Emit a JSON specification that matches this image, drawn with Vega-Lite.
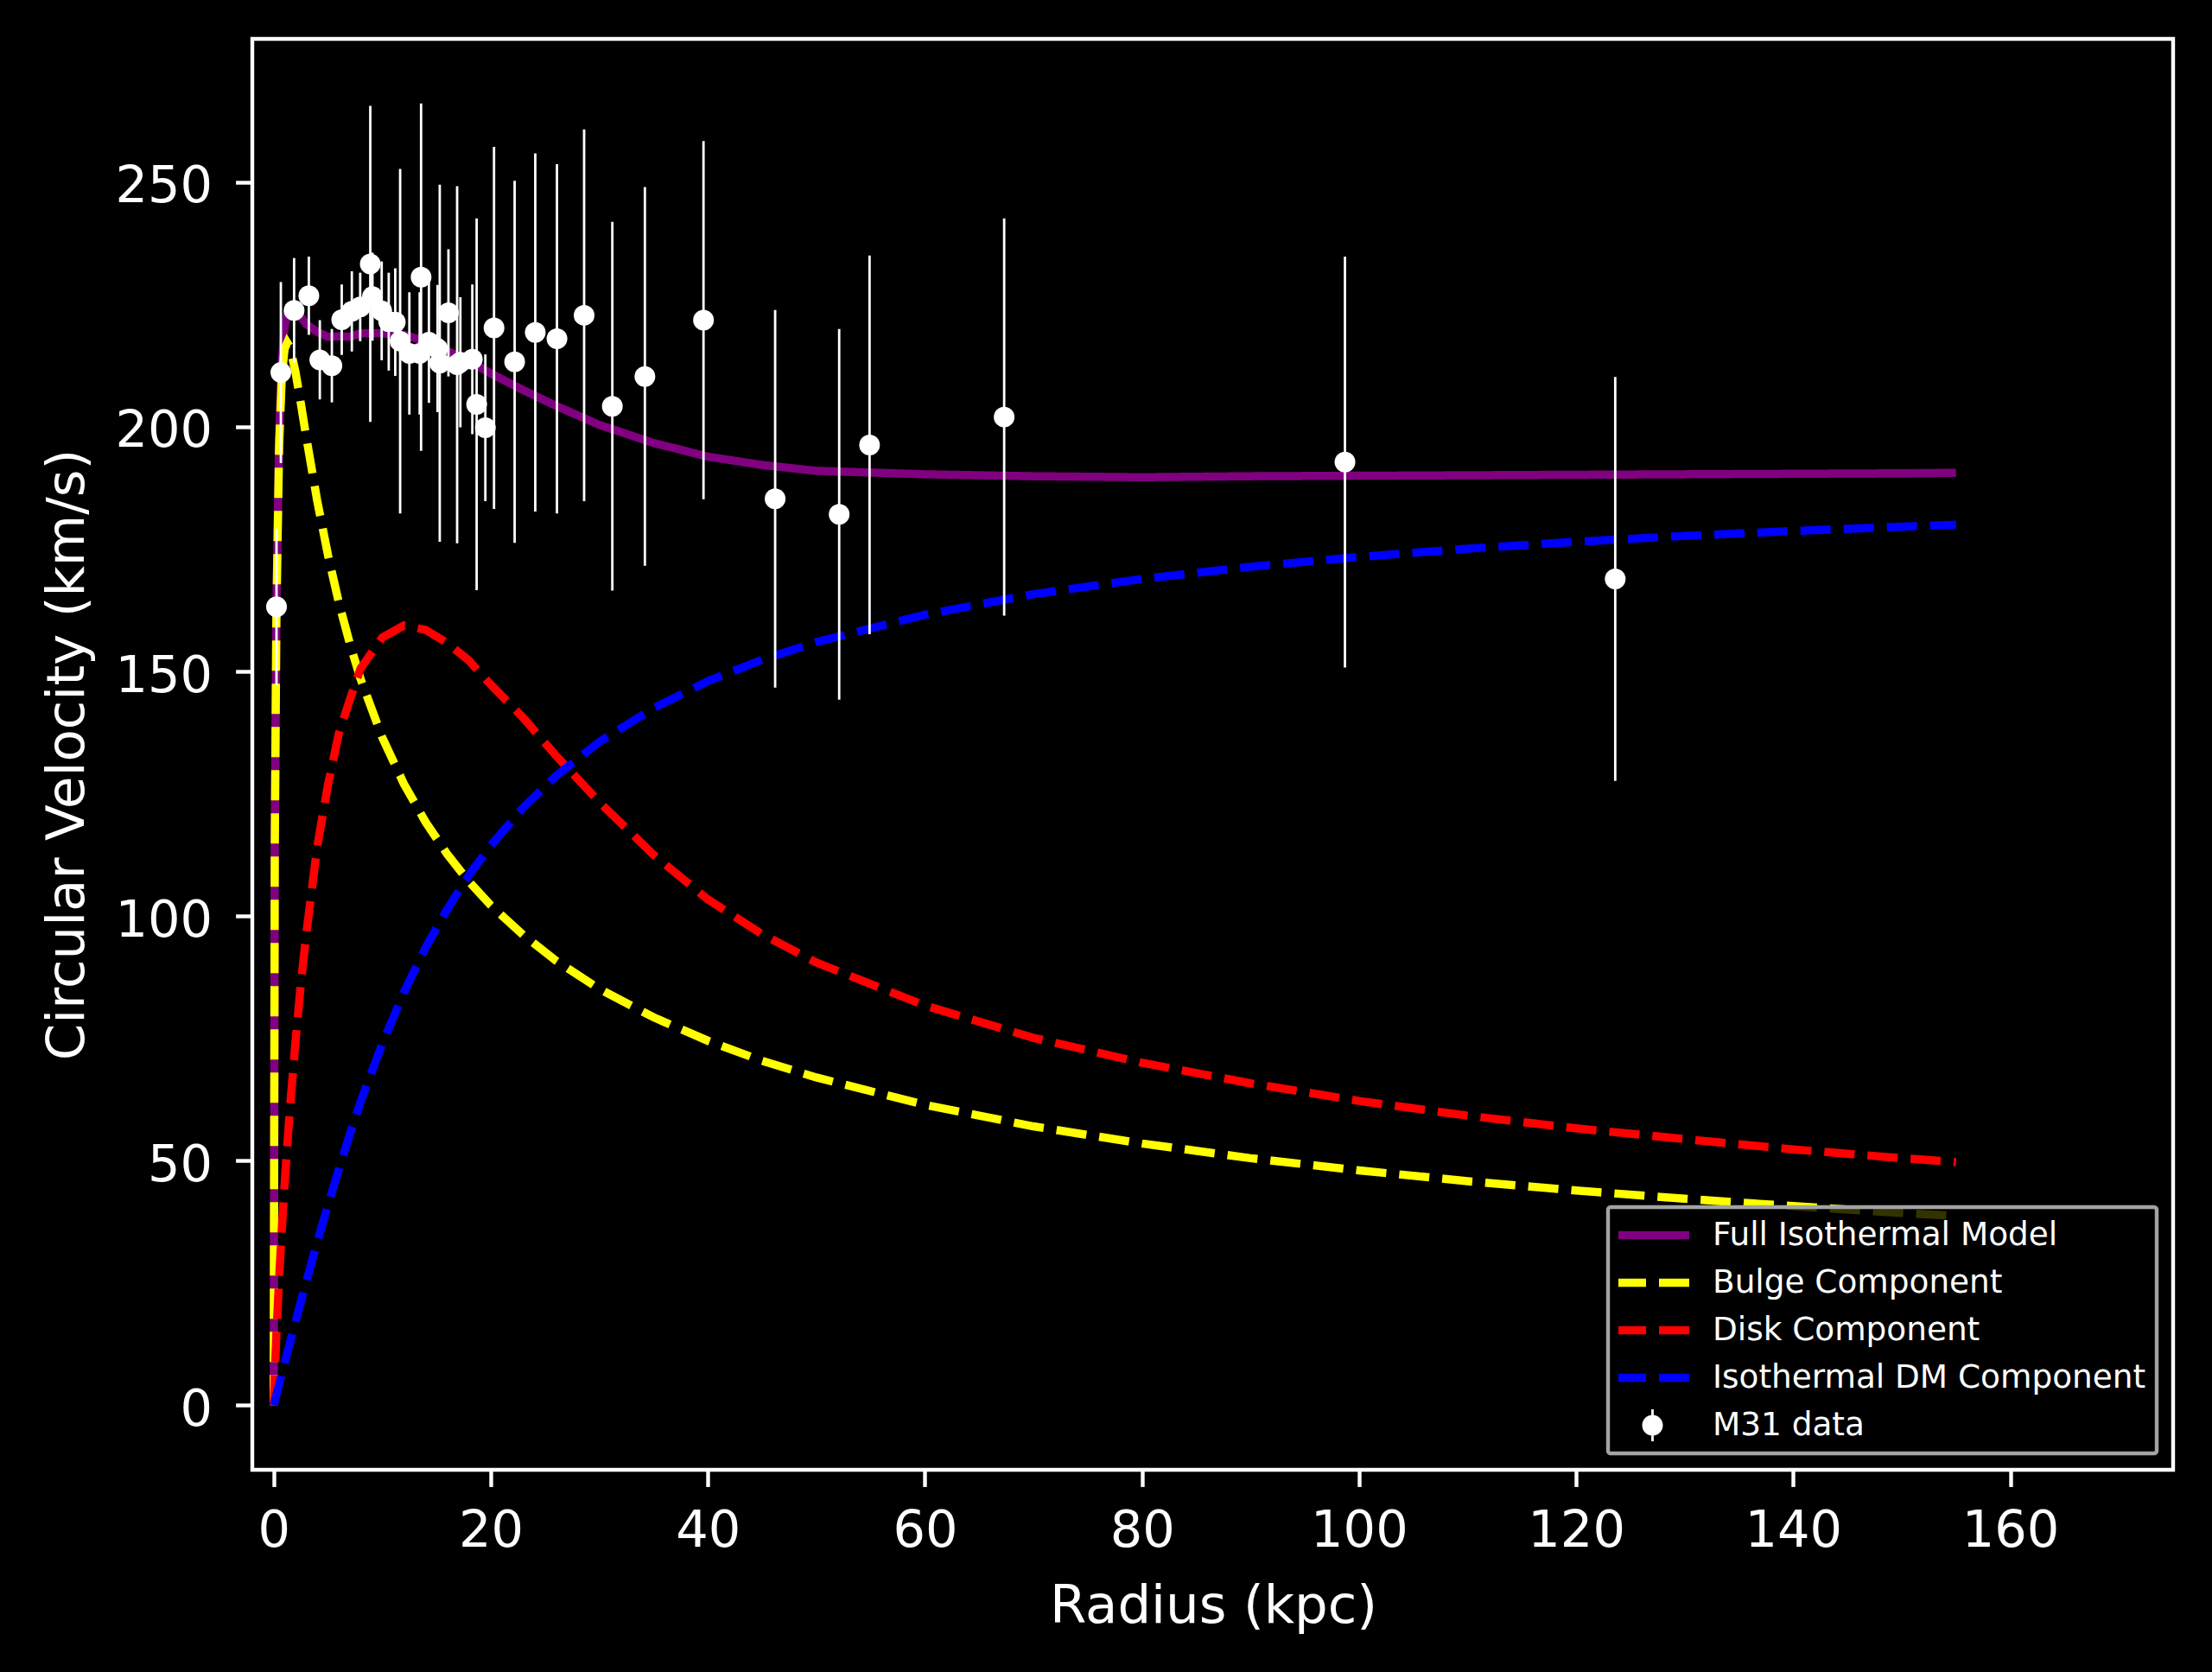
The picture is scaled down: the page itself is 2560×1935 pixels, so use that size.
{
  "$schema": "https://vega.github.io/schema/vega-lite/v6.json",
  "width": 2223,
  "height": 1656,
  "autosize": {"type": "none"},
  "padding": {"left": 292, "top": 45, "right": 45, "bottom": 234},
  "background": "black",
  "config": {
    "view": {"stroke": "white", "strokeWidth": 4.4},
    "font": "DejaVu Sans",
    "axis": {
      "domain": false, "grid": false,
      "tickColor": "white", "tickWidth": 4.4, "tickSize": 19.4,
      "labelColor": "white", "labelFont": "DejaVu Sans", "labelFontSize": 59, "labelFlush": false,
      "titleColor": "white", "titleFont": "DejaVu Sans", "titleFontSize": 61, "titleFontWeight": "normal"
    }
  },
  "datasets": {
    "curves": [
      {"r":0,"v":0,"series":"Full Isothermal Model"},{"r":0.1,"v":114.0,"series":"Full Isothermal Model"},{"r":0.25,"v":162.6,"series":"Full Isothermal Model"},{"r":0.5,"v":198.0,"series":"Full Isothermal Model"},{"r":0.75,"v":213.5,"series":"Full Isothermal Model"},{"r":1,"v":220.5,"series":"Full Isothermal Model"},{"r":1.25,"v":223.3,"series":"Full Isothermal Model"},{"r":1.5,"v":224.2,"series":"Full Isothermal Model"},{"r":2,"v":223.8,"series":"Full Isothermal Model"},{"r":2.5,"v":222.5,"series":"Full Isothermal Model"},{"r":3,"v":221.0,"series":"Full Isothermal Model"},{"r":4,"v":219.4,"series":"Full Isothermal Model"},{"r":5,"v":218.4,"series":"Full Isothermal Model"},{"r":6,"v":218.5,"series":"Full Isothermal Model"},{"r":7,"v":218.4,"series":"Full Isothermal Model"},{"r":8,"v":219.1,"series":"Full Isothermal Model"},{"r":10,"v":219.1,"series":"Full Isothermal Model"},{"r":12,"v":218.8,"series":"Full Isothermal Model"},{"r":14,"v":217.5,"series":"Full Isothermal Model"},{"r":16,"v":215.5,"series":"Full Isothermal Model"},{"r":18,"v":213.5,"series":"Full Isothermal Model"},{"r":20,"v":210.9,"series":"Full Isothermal Model"},{"r":23,"v":207.5,"series":"Full Isothermal Model"},{"r":26,"v":204.3,"series":"Full Isothermal Model"},{"r":30,"v":200.4,"series":"Full Isothermal Model"},{"r":35,"v":196.7,"series":"Full Isothermal Model"},{"r":40,"v":193.9,"series":"Full Isothermal Model"},{"r":45,"v":192.2,"series":"Full Isothermal Model"},{"r":50,"v":191.0,"series":"Full Isothermal Model"},{"r":60,"v":190.3,"series":"Full Isothermal Model"},{"r":70,"v":189.9,"series":"Full Isothermal Model"},{"r":80,"v":189.7,"series":"Full Isothermal Model"},{"r":90,"v":189.9,"series":"Full Isothermal Model"},{"r":100,"v":190.0,"series":"Full Isothermal Model"},{"r":110,"v":190.1,"series":"Full Isothermal Model"},{"r":120,"v":190.2,"series":"Full Isothermal Model"},{"r":130,"v":190.3,"series":"Full Isothermal Model"},{"r":140,"v":190.4,"series":"Full Isothermal Model"},{"r":150,"v":190.5,"series":"Full Isothermal Model"},{"r":155,"v":190.6,"series":"Full Isothermal Model"},
      {"r":0,"v":0,"series":"Bulge Component"},{"r":0.1,"v":113.8,"series":"Bulge Component"},{"r":0.25,"v":161.9,"series":"Bulge Component"},{"r":0.5,"v":196.2,"series":"Bulge Component"},{"r":0.75,"v":210.3,"series":"Bulge Component"},{"r":1,"v":215.9,"series":"Bulge Component"},{"r":1.25,"v":217.2,"series":"Bulge Component"},{"r":1.5,"v":216.3,"series":"Bulge Component"},{"r":2,"v":211.3,"series":"Bulge Component"},{"r":2.5,"v":204.8,"series":"Bulge Component"},{"r":3,"v":197.9,"series":"Bulge Component"},{"r":4,"v":185.0,"series":"Bulge Component"},{"r":5,"v":173.8,"series":"Bulge Component"},{"r":6,"v":164.1,"series":"Bulge Component"},{"r":7,"v":155.8,"series":"Bulge Component"},{"r":8,"v":148.5,"series":"Bulge Component"},{"r":10,"v":136.5,"series":"Bulge Component"},{"r":12,"v":127.0,"series":"Bulge Component"},{"r":14,"v":119.2,"series":"Bulge Component"},{"r":16,"v":112.6,"series":"Bulge Component"},{"r":18,"v":107.0,"series":"Bulge Component"},{"r":20,"v":102.2,"series":"Bulge Component"},{"r":23,"v":96.1,"series":"Bulge Component"},{"r":26,"v":90.9,"series":"Bulge Component"},{"r":30,"v":85.1,"series":"Bulge Component"},{"r":35,"v":79.3,"series":"Bulge Component"},{"r":40,"v":74.5,"series":"Bulge Component"},{"r":45,"v":70.4,"series":"Bulge Component"},{"r":50,"v":67.0,"series":"Bulge Component"},{"r":60,"v":61.4,"series":"Bulge Component"},{"r":70,"v":57.0,"series":"Bulge Component"},{"r":80,"v":53.5,"series":"Bulge Component"},{"r":90,"v":50.5,"series":"Bulge Component"},{"r":100,"v":48.0,"series":"Bulge Component"},{"r":110,"v":45.8,"series":"Bulge Component"},{"r":120,"v":43.9,"series":"Bulge Component"},{"r":130,"v":42.2,"series":"Bulge Component"},{"r":140,"v":40.7,"series":"Bulge Component"},{"r":150,"v":39.3,"series":"Bulge Component"},{"r":155,"v":38.7,"series":"Bulge Component"},
      {"r":0,"v":0,"series":"Disk Component"},{"r":0.1,"v":6.5,"series":"Disk Component"},{"r":0.25,"v":14.5,"series":"Disk Component"},{"r":0.5,"v":26.0,"series":"Disk Component"},{"r":0.75,"v":36.0,"series":"Disk Component"},{"r":1,"v":45.0,"series":"Disk Component"},{"r":1.25,"v":53.1,"series":"Disk Component"},{"r":1.5,"v":60.7,"series":"Disk Component"},{"r":2,"v":74.1,"series":"Disk Component"},{"r":2.5,"v":86.1,"series":"Disk Component"},{"r":3,"v":96.3,"series":"Disk Component"},{"r":4,"v":114.0,"series":"Disk Component"},{"r":5,"v":126.8,"series":"Disk Component"},{"r":6,"v":137.3,"series":"Disk Component"},{"r":7,"v":144.1,"series":"Disk Component"},{"r":8,"v":150.6,"series":"Disk Component"},{"r":10,"v":156.9,"series":"Disk Component"},{"r":12,"v":159.4,"series":"Disk Component"},{"r":14,"v":158.5,"series":"Disk Component"},{"r":16,"v":155.8,"series":"Disk Component"},{"r":18,"v":152.2,"series":"Disk Component"},{"r":20,"v":147.3,"series":"Disk Component"},{"r":23,"v":140.5,"series":"Disk Component"},{"r":26,"v":132.8,"series":"Disk Component"},{"r":30,"v":123.3,"series":"Disk Component"},{"r":35,"v":112.5,"series":"Disk Component"},{"r":40,"v":103.4,"series":"Disk Component"},{"r":45,"v":96.3,"series":"Disk Component"},{"r":50,"v":90.5,"series":"Disk Component"},{"r":60,"v":81.7,"series":"Disk Component"},{"r":70,"v":75.1,"series":"Disk Component"},{"r":80,"v":70.0,"series":"Disk Component"},{"r":90,"v":65.8,"series":"Disk Component"},{"r":100,"v":62.2,"series":"Disk Component"},{"r":110,"v":59.2,"series":"Disk Component"},{"r":120,"v":56.6,"series":"Disk Component"},{"r":130,"v":54.4,"series":"Disk Component"},{"r":140,"v":52.3,"series":"Disk Component"},{"r":150,"v":50.5,"series":"Disk Component"},{"r":155,"v":49.7,"series":"Disk Component"},
      {"r":0,"v":0,"series":"Isothermal DM Component"},{"r":0.1,"v":0.85,"series":"Isothermal DM Component"},{"r":0.25,"v":2.1,"series":"Isothermal DM Component"},{"r":0.5,"v":4.3,"series":"Isothermal DM Component"},{"r":0.75,"v":6.4,"series":"Isothermal DM Component"},{"r":1,"v":8.5,"series":"Isothermal DM Component"},{"r":1.25,"v":10.7,"series":"Isothermal DM Component"},{"r":1.5,"v":12.8,"series":"Isothermal DM Component"},{"r":2,"v":17.0,"series":"Isothermal DM Component"},{"r":2.5,"v":21.1,"series":"Isothermal DM Component"},{"r":3,"v":25.2,"series":"Isothermal DM Component"},{"r":4,"v":33.3,"series":"Isothermal DM Component"},{"r":5,"v":40.9,"series":"Isothermal DM Component"},{"r":6,"v":48.2,"series":"Isothermal DM Component"},{"r":7,"v":55.3,"series":"Isothermal DM Component"},{"r":8,"v":62.0,"series":"Isothermal DM Component"},{"r":10,"v":73.9,"series":"Isothermal DM Component"},{"r":12,"v":84.4,"series":"Isothermal DM Component"},{"r":14,"v":93.6,"series":"Isothermal DM Component"},{"r":16,"v":101.4,"series":"Isothermal DM Component"},{"r":18,"v":108.4,"series":"Isothermal DM Component"},{"r":20,"v":114.4,"series":"Isothermal DM Component"},{"r":23,"v":122.2,"series":"Isothermal DM Component"},{"r":26,"v":128.6,"series":"Isothermal DM Component"},{"r":30,"v":135.6,"series":"Isothermal DM Component"},{"r":35,"v":142.5,"series":"Isothermal DM Component"},{"r":40,"v":148.0,"series":"Isothermal DM Component"},{"r":45,"v":152.4,"series":"Isothermal DM Component"},{"r":50,"v":156.0,"series":"Isothermal DM Component"},{"r":60,"v":161.6,"series":"Isothermal DM Component"},{"r":70,"v":165.8,"series":"Isothermal DM Component"},{"r":80,"v":168.9,"series":"Isothermal DM Component"},{"r":90,"v":171.4,"series":"Isothermal DM Component"},{"r":100,"v":173.4,"series":"Isothermal DM Component"},{"r":110,"v":175.1,"series":"Isothermal DM Component"},{"r":120,"v":176.5,"series":"Isothermal DM Component"},{"r":130,"v":177.7,"series":"Isothermal DM Component"},{"r":140,"v":178.7,"series":"Isothermal DM Component"},{"r":150,"v":179.6,"series":"Isothermal DM Component"},{"r":155,"v":180.0,"series":"Isothermal DM Component"}
    ],
    "m31": [
      {"r":0.26,"v":163.2,"lo":147.2,"hi":179.2,"series":"M31 data"},
      {"r":0.66,"v":211.1,"lo":192.6,"hi":229.6,"series":"M31 data"},
      {"r":1.88,"v":223.8,"lo":213.1,"hi":234.5,"series":"M31 data"},
      {"r":3.24,"v":226.8,"lo":218.8,"hi":234.8,"series":"M31 data"},
      {"r":4.25,"v":213.7,"lo":205.6,"hi":221.8,"series":"M31 data"},
      {"r":5.36,"v":212.5,"lo":205.0,"hi":220.0,"series":"M31 data"},
      {"r":6.27,"v":221.9,"lo":214.7,"hi":229.1,"series":"M31 data"},
      {"r":7.2,"v":223.6,"lo":215.4,"hi":231.8,"series":"M31 data"},
      {"r":7.97,"v":224.5,"lo":217.5,"hi":231.5,"series":"M31 data"},
      {"r":8.9,"v":233.3,"lo":201.0,"hi":265.6,"series":"M31 data"},
      {"r":9.1,"v":226.6,"lo":217.6,"hi":235.6,"series":"M31 data"},
      {"r":9.95,"v":223.7,"lo":213.6,"hi":233.8,"series":"M31 data"},
      {"r":10.6,"v":221.5,"lo":211.5,"hi":231.5,"series":"M31 data"},
      {"r":11.2,"v":221.4,"lo":210.4,"hi":232.4,"series":"M31 data"},
      {"r":11.65,"v":217.5,"lo":182.3,"hi":252.7,"series":"M31 data"},
      {"r":12.5,"v":215.0,"lo":202.5,"hi":227.5,"series":"M31 data"},
      {"r":13.45,"v":215.0,"lo":202.5,"hi":227.5,"series":"M31 data"},
      {"r":13.58,"v":230.6,"lo":195.1,"hi":266.1,"series":"M31 data"},
      {"r":14.3,"v":217.3,"lo":204.9,"hi":229.7,"series":"M31 data"},
      {"r":15.1,"v":216.0,"lo":203.0,"hi":229.0,"series":"M31 data"},
      {"r":15.3,"v":213.0,"lo":176.5,"hi":249.5,"series":"M31 data"},
      {"r":16.1,"v":223.3,"lo":210.3,"hi":236.3,"series":"M31 data"},
      {"r":16.9,"v":212.7,"lo":176.2,"hi":249.2,"series":"M31 data"},
      {"r":17.2,"v":213.2,"lo":199.9,"hi":226.5,"series":"M31 data"},
      {"r":18.3,"v":213.8,"lo":198.5,"hi":229.1,"series":"M31 data"},
      {"r":18.7,"v":204.6,"lo":166.6,"hi":242.6,"series":"M31 data"},
      {"r":19.5,"v":199.8,"lo":184.8,"hi":214.8,"series":"M31 data"},
      {"r":20.3,"v":220.2,"lo":183.2,"hi":257.2,"series":"M31 data"},
      {"r":22.2,"v":213.3,"lo":176.3,"hi":250.3,"series":"M31 data"},
      {"r":24.1,"v":219.3,"lo":182.7,"hi":255.9,"series":"M31 data"},
      {"r":26.1,"v":218.0,"lo":182.3,"hi":253.7,"series":"M31 data"},
      {"r":28.6,"v":222.8,"lo":184.8,"hi":260.8,"series":"M31 data"},
      {"r":31.2,"v":204.2,"lo":166.5,"hi":241.9,"series":"M31 data"},
      {"r":34.2,"v":210.3,"lo":171.6,"hi":249.0,"series":"M31 data"},
      {"r":39.6,"v":221.8,"lo":185.2,"hi":258.4,"series":"M31 data"},
      {"r":46.2,"v":185.3,"lo":146.7,"hi":223.9,"series":"M31 data"},
      {"r":52.1,"v":182.1,"lo":144.2,"hi":220.0,"series":"M31 data"},
      {"r":54.9,"v":196.3,"lo":157.6,"hi":235.0,"series":"M31 data"},
      {"r":67.3,"v":202.0,"lo":161.4,"hi":242.6,"series":"M31 data"},
      {"r":98.7,"v":192.8,"lo":150.8,"hi":234.8,"series":"M31 data"},
      {"r":123.6,"v":168.9,"lo":127.6,"hi":210.2,"series":"M31 data"}
    ]
  },
  "layer": [
    {
      "data": {"name": "curves"},
      "mark": {"type": "line", "strokeWidth": 9.5, "strokeCap": "butt"},
      "encoding": {
        "x": {
          "field": "r", "type": "quantitative",
          "scale": {"domain": [-1.97, 175.0], "nice": false, "zero": false},
          "axis": {"values": [0, 20, 40, 60, 80, 100, 120, 140, 160], "title": "Radius (kpc)", "labelPadding": 22, "titleBaseline": "alphabetic", "titleX": 1112, "titleY": 176}
        },
        "y": {
          "field": "v", "type": "quantitative",
          "scale": {"domain": [-13.2, 279.3], "nice": false, "zero": false},
          "axis": {"values": [0, 50, 100, 150, 200, 250], "title": "Circular Velocity (km/s)", "labelPadding": 27, "labelOffset": 5, "titleBaseline": "alphabetic", "titleX": -196, "titleY": 828, "titleAlign": "center", "titleAngle": 270}
        },
        "color": {
          "field": "series", "type": "nominal",
          "scale": {"domain": ["Full Isothermal Model", "Bulge Component", "Disk Component", "Isothermal DM Component", "M31 data"], "range": ["#800080", "#ffff00", "#ff0000", "#0000ff", "#ffffff"]},
          "legend": {
            "title": null, "orient": "none", "legendX": 1569, "legendY": 1352,
            "symbolType": "stroke", "symbolSize": 7225, "symbolStrokeWidth": 9.5, "symbolOffset": -8,
            "labelFont": "DejaVu Sans", "labelFontSize": 37.4, "labelColor": "white", "labelLimit": 1000, "labelOffset": 22,
            "clipHeight": 41, "rowPadding": 14, "padding": 12,
            "fillColor": "rgba(0,0,0,0.8)", "strokeColor": "#a3a3a3", "cornerRadius": 3,
            "encode": {
              "legend": {"update": {"strokeWidth": {"value": 4.4}}},
              "symbols": {"update": {
                "shape": [{"test": "datum.value === 'M31 data'", "value": "M-0.033,-0.435L0.033,-0.435L0.033,0.435L-0.033,0.435Z M-0.282,0A0.282,0.282,0,1,1,0.282,0A0.282,0.282,0,1,1,-0.282,0Z"}, {"value": "stroke"}],
                "fill": [{"test": "datum.value === 'M31 data'", "value": "#ffffff"}, {"value": "transparent"}],
                "fillOpacity": {"value": 1},
                "strokeOpacity": [{"test": "datum.value === 'M31 data'", "value": 0}, {"value": 1}]
              }}
            }
          }
        },
        "strokeDash": {
          "field": "series", "type": "nominal",
          "scale": {"domain": ["Full Isothermal Model", "Bulge Component", "Disk Component", "Isothermal DM Component", "M31 data"], "range": [[1, 0], [35, 15], [35, 15], [35, 15], [1, 0]]},
          "legend": {
            "title": null, "orient": "none", "legendX": 1569, "legendY": 1352,
            "symbolType": "stroke", "symbolSize": 7225, "symbolStrokeWidth": 9.5, "symbolOffset": -8,
            "labelFont": "DejaVu Sans", "labelFontSize": 37.4, "labelColor": "white", "labelLimit": 1000, "labelOffset": 22,
            "clipHeight": 41, "rowPadding": 14, "padding": 12,
            "fillColor": "rgba(0,0,0,0.8)", "strokeColor": "#a3a3a3", "cornerRadius": 3
          }
        }
      }
    },
    {
      "data": {"name": "m31"},
      "mark": {"type": "rule", "strokeWidth": 2.8, "color": "white"},
      "encoding": {
        "x": {"field": "r", "type": "quantitative"},
        "y": {"field": "lo", "type": "quantitative"},
        "y2": {"field": "hi"}
      }
    },
    {
      "data": {"name": "m31"},
      "mark": {"type": "circle", "size": 576, "opacity": 1},
      "encoding": {
        "x": {"field": "r", "type": "quantitative"},
        "y": {"field": "v", "type": "quantitative"},
        "color": {"field": "series", "type": "nominal"}
      }
    }
  ]
}
